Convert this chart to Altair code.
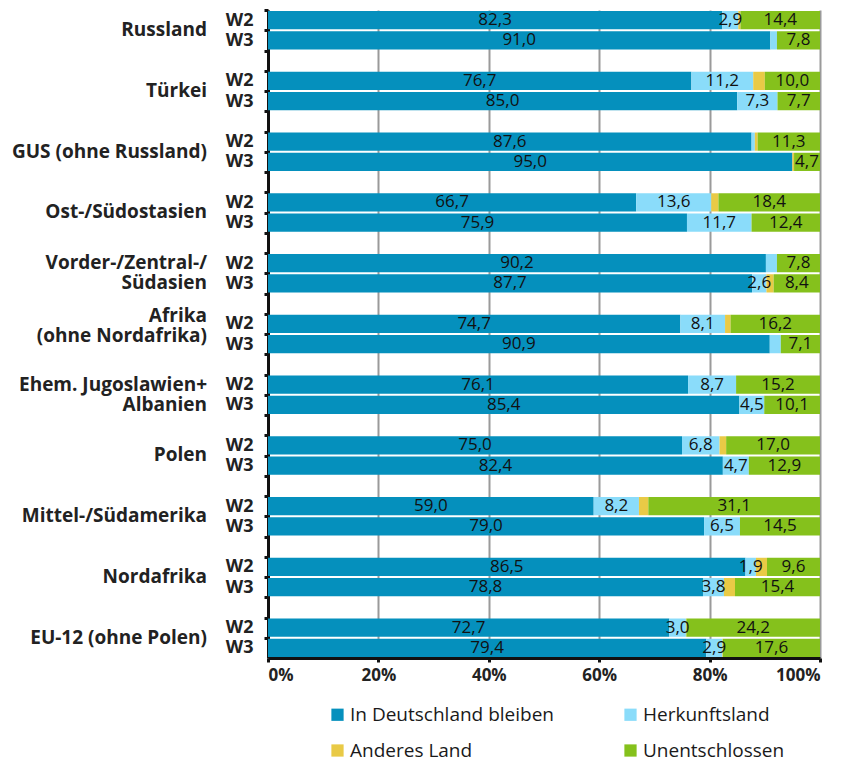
import altair as alt
import pandas as pd

regions_line1 = [
    "Russland", "Türkei", "GUS (ohne Russland)", "Ost-/Südostasien",
    "Vorder-/Zentral-/", "Afrika", "Ehem. Jugoslawien+", "Polen",
    "Mittel-/Südamerika", "Nordafrika", "EU-12 (ohne Polen)",
]
regions_line2 = ["", "", "", "", "Südasien", "(ohne Nordafrika)", "Albanien", "", "", "", ""]
waves = ["W2", "W3"]
categories = ["In Deutschland bleiben", "Herkunftsland", "Anderes Land", "Unentschlossen"]
colors = ["#0590BD", "#8ADCFA", "#E9CA46", "#85C11C"]

# values per region: [W2, W3]
deutschland = [[82.3, 91.0], [76.7, 85.0], [87.6, 95.0], [66.7, 75.9], [90.2, 87.7],
               [74.7, 90.9], [76.1, 85.4], [75.0, 82.4], [59.0, 79.0], [86.5, 78.8], [72.7, 79.4]]
herkunft = [[2.9, 1.2], [11.2, 7.3], [0.6, 0.0], [13.6, 11.7], [2.0, 2.6],
            [8.1, 2.0], [8.7, 4.5], [6.8, 4.7], [8.2, 6.5], [1.9, 3.8], [3.0, 2.9]]
herkunft_labeled = [[True, False], [True, True], [False, False], [True, True], [False, True],
                    [True, False], [True, True], [True, True], [True, True], [True, True], [True, True]]
anderes = [[0.4, 0.0], [2.1, 0.0], [0.5, 0.3], [1.3, 0.0], [0.0, 1.3],
           [1.0, 0.0], [0.0, 0.0], [1.2, 0.0], [1.7, 0.0], [2.0, 2.0], [0.1, 0.1]]
unentschlossen = [[14.4, 7.8], [10.0, 7.7], [11.3, 4.7], [18.4, 12.4], [7.8, 8.4],
                  [16.2, 7.1], [15.2, 10.1], [17.0, 12.9], [31.1, 14.5], [9.6, 15.4], [24.2, 17.6]]
x_ticks = [0, 20, 40, 60, 80, 100]

FONT = "Open Sans"

n = len(regions_line1)
slots = []
for i in range(n):
    slots.append(f"{i:02d}_W2")
    slots.append(f"{i:02d}_W3")
    if i < n - 1:
        slots.append(f"{i:02d}_gap")

rows = []
for i in range(n):
    for w, wave in enumerate(waves):
        vals = [deutschland[i][w], herkunft[i][w], anderes[i][w], unentschlossen[i][w]]
        shown = [True, herkunft_labeled[i][w], False, True]
        start = 0.0
        for k, (cat, v) in enumerate(zip(categories, vals)):
            rows.append({
                "slot": f"{i:02d}_{wave}",
                "category": cat,
                "x0": start,
                "x1": start + v,
                "mid": start + v / 2,
                "label": f"{v:.1f}".replace(".", ",") if shown[k] else "",
            })
            start += v
df = pd.DataFrame(rows)

single_rows, double_rows, raised_rows = [], [], []
for i in range(n):
    if not regions_line2[i]:
        single_rows.append({"slot": f"{i:02d}_W2", "text": regions_line1[i]})
    else:
        target = raised_rows if regions_line1[i] == "Afrika" else double_rows
        target.append({"slot": f"{i:02d}_W2", "text": regions_line1[i]})
        target.append({"slot": f"{i:02d}_W3", "text": regions_line2[i]})

yscale = alt.Scale(domain=slots, paddingInner=0.1, paddingOuter=0.05)
xscale = alt.Scale(domain=[0, 100], nice=False)

bars = alt.Chart(df).mark_bar().encode(
    y=alt.Y("slot:N", scale=yscale, title=None,
            axis=alt.Axis(
                labelExpr="slice(datum.value, 3) == 'gap' ? '' : slice(datum.value, 3)",
                tickSize=4, tickWidth=3, tickColor="#111", tickOffset=-10, labelOffset=10,
                domainWidth=3, domainColor="#111", labelFont=FONT, labelFontWeight="bold",
                labelFontSize=18, labelColor="#222", labelPadding=11, grid=False)),
    x=alt.X("x0:Q", scale=xscale, title=None,
            axis=alt.Axis(values=x_ticks, labelExpr="datum.value + '%'", grid=True,
                          gridColor="#9a9a9a", gridWidth=2, domainWidth=3, domainColor="#111",
                          tickSize=4, tickWidth=3, tickColor="#111", labelFont=FONT,
                          labelFontWeight="bold", labelFontSize=17, labelColor="#222",
                          labelPadding=5)),
    x2="x1:Q",
    color=alt.Color("category:N", scale=alt.Scale(domain=categories, range=colors),
                    title=None,
                    legend=alt.Legend(orient="none", legendX=60, legendY=695, columns=2,
                                      direction="horizontal",
                                      columnPadding=67, rowPadding=16, symbolType="square",
                                      symbolSize=150, labelFont=FONT, labelLimit=400,
                                      labelFontSize=19, labelColor="#1a1a1a", labelOffset=3)),
)

texts = alt.Chart(df).mark_text(font=FONT, fontSize=17, color="#111").encode(
    y=alt.Y("slot:N", scale=yscale),
    x=alt.X("mid:Q", scale=xscale),
    text="label:N",
)


def region_layer(data, dy):
    return alt.Chart(pd.DataFrame(data)).mark_text(
        font=FONT, fontSize=19, fontWeight="bold", color="#222", align="right", dx=-61, dy=dy,
    ).encode(
        y=alt.Y("slot:N", scale=yscale),
        x=alt.value(0),
        text="text:N",
    )


chart = alt.layer(
    bars, texts,
    region_layer(single_rows, 10),
    region_layer(double_rows, 0),
    region_layer(raised_rows, -8),
).properties(
    width=552, height=648,
    padding={"left": 3, "top": 0, "right": 5, "bottom": 0},
).configure_view(strokeWidth=0)

chart.save("out.html", embed_options={"renderer": "svg", "actions": False})
